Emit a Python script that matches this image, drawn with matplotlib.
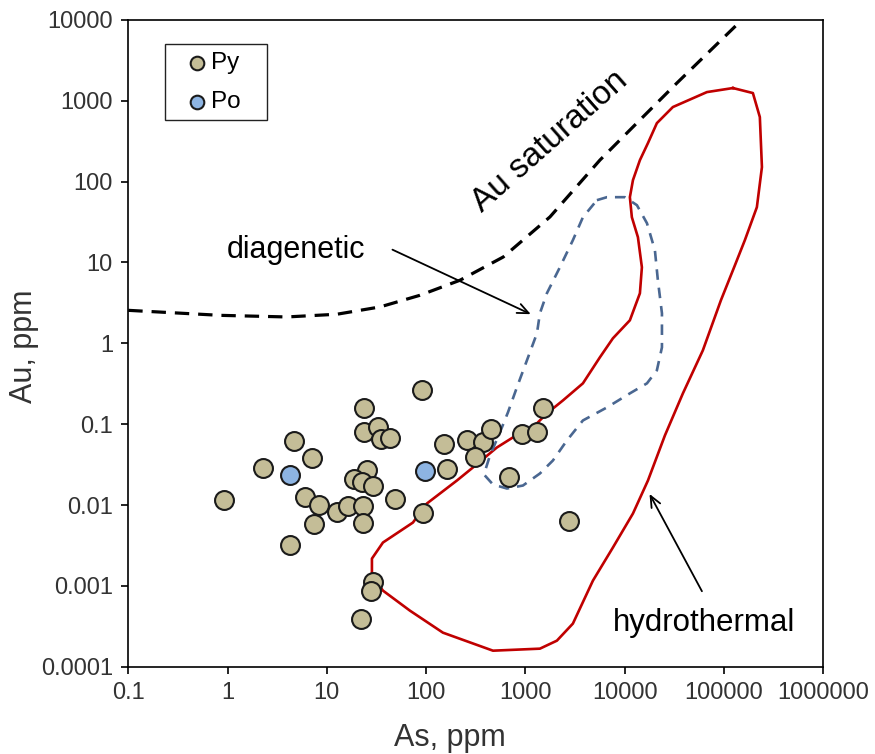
import matplotlib

matplotlib.use("Agg")
import matplotlib.pyplot as plt
import numpy as np
from matplotlib.patches import Rectangle

plt.rcParams["font.family"] = ["Liberation Sans", "DejaVu Sans"]

# Pyrite analyses (As, Au in ppm)
py_as = [0.92, 2.29, 4.63, 7.03, 6.06, 8.38, 7.47, 4.25, 12.8, 16.2, 23.3, 22.9,
         25.2, 18.7, 22.4, 28.9, 48.5, 23.8, 23.8, 32.5, 35.1, 43.2, 90.1, 93.5,
         29.3, 27.6, 22.0, 161, 151, 256, 376, 310, 446, 915, 1315, 1490, 687, 2742]
py_au = [0.0116, 0.0283, 0.0624, 0.0387, 0.0125, 0.0101, 0.00578, 0.00324, 0.00814,
         0.00986, 0.00977, 0.00595, 0.0273, 0.0209, 0.0191, 0.0171, 0.0120, 0.158,
         0.0797, 0.0919, 0.0647, 0.0672, 0.262, 0.00792, 0.00111, 0.000873, 0.00039,
         0.0281, 0.0573, 0.0629, 0.0600, 0.0391, 0.0879, 0.0746, 0.0797, 0.160,
         0.0225, 0.00630]

# Pyrrhotite analyses
po_as = [4.25, 97.9]
po_au = [0.0232, 0.026]

# Au saturation curve
sat_as = [0.1, 0.84, 3.94, 12.6, 34.3, 86.6, 219, 598, 1765, 5630, 14200, 33300,
          134000, 162000]
sat_au = [2.56, 2.22, 2.12, 2.29, 2.82, 3.93, 6.03, 11.7, 36.6, 185, 578, 1645,
          8670, 11500]

# hydrothermal field outline (log10 As, log10 Au)
hydro_log_as = [5.090, 5.291, 5.361, 5.382, 5.331, 5.210, 5.110, 4.969, 4.787, 4.586,
                4.405, 4.234, 4.083, 3.881, 3.680, 3.478, 3.317, 3.146, 2.673, 2.169,
                1.837, 1.565, 1.454, 1.454, 1.565, 1.867, 2.008, 2.310, 2.471, 2.713,
                2.874, 3.045, 3.216, 3.378, 3.579, 3.750, 3.881, 4.052, 4.153, 4.173,
                4.133, 4.072, 4.052, 4.083, 4.153, 4.234, 4.324, 4.485, 4.828, 5.090]
hydro_log_au = [3.158, 3.096, 2.799, 2.180, 1.684, 1.276, 0.966, 0.533, -0.087, -0.619,
                -1.139, -1.697, -2.105, -2.526, -2.935, -3.467, -3.678, -3.777, -3.802,
                -3.579, -3.307, -3.059, -2.873, -2.663, -2.464, -2.217, -1.981, -1.697,
                -1.536, -1.288, -1.164, -1.077, -0.867, -0.706, -0.495, -0.173, 0.062,
                0.285, 0.619, 0.941, 1.313, 1.560, 1.808, 2.019, 2.266, 2.477, 2.724,
                2.923, 3.108, 3.158]

# diagenetic field outline (log10 As, log10 Au)
diag_log_as = [3.720, 3.821, 4.002, 4.123, 4.224, 4.304, 4.334, 4.375, 4.375, 4.324,
               4.224, 4.052, 3.821, 3.579, 3.418, 3.277, 3.146, 2.975, 2.814, 2.673,
               2.582, 2.643, 2.743, 2.824, 2.914, 3.015, 3.116, 3.146, 3.216, 3.347,
               3.478, 3.579, 3.720]
diag_log_au = [1.771, 1.808, 1.808, 1.709, 1.486, 1.152, 0.780, 0.372, -0.050, -0.334,
               -0.495, -0.619, -0.793, -0.954, -1.201, -1.449, -1.610, -1.759, -1.796,
               -1.746, -1.622, -1.387, -1.102, -0.854, -0.545, -0.211, 0.124, 0.372,
               0.619, 0.941, 1.276, 1.560, 1.771]

x_ticks = [0.1, 1, 10, 100, 1000, 10000, 100000, 1000000]
x_labels = ["0.1", "1", "10", "100", "1000", "10000", "100000", "1000000"]
y_ticks = [0.0001, 0.001, 0.01, 0.1, 1, 10, 100, 1000, 10000]
y_labels = ["0.0001", "0.001", "0.01", "0.1", "1", "10", "100", "1000", "10000"]

fig = plt.figure(figsize=(8.75, 7.54), dpi=100)
ax = fig.add_axes([0.1466, 0.1158, 0.7943, 0.8577])
ax.set_xscale("log")
ax.set_yscale("log")
ax.set_xlim(0.1, 1e6)
ax.set_ylim(1e-4, 1e4)

ax.plot(sat_as, sat_au, color="black", lw=2.3, dashes=(4.5, 2.8), zorder=2)
ax.plot(10 ** np.array(hydro_log_as), 10 ** np.array(hydro_log_au),
        color="#C00000", lw=1.9, zorder=2)
ax.plot(10 ** np.array(diag_log_as), 10 ** np.array(diag_log_au),
        color="#4A6791", lw=1.9, dashes=(4.0, 3.0), zorder=2)

ax.scatter(py_as, py_au, s=185, c="#C4BD97", edgecolors="#1a1a1a",
           linewidths=1.5, zorder=4, label="Py")
ax.scatter(po_as, po_au, s=185, c="#8DB4E2", edgecolors="#1a1a1a",
           linewidths=1.5, zorder=4, label="Po")

ax.text(1766, 313, "Au saturation", fontsize=24, rotation=41.5,
        rotation_mode="anchor", ha="center", va="center")
ax.text(4.94, 14.2, "diagenetic", fontsize=22, ha="center", va="center")
ax.text(62800, 0.000345, "hydrothermal", fontsize=22.5, ha="center", va="center")

ax.annotate("", xy=(1200, 2.22), xytext=(43.2, 14.9),
            arrowprops=dict(arrowstyle="->,head_length=0.8,head_width=0.35",
                            color="black", lw=1.3))
ax.annotate("", xy=(17250, 0.0147), xytext=(61800, 0.0008),
            arrowprops=dict(arrowstyle="->,head_length=0.8,head_width=0.35",
                            color="black", lw=1.3))

ax.xaxis.set_major_locator(matplotlib.ticker.FixedLocator(x_ticks))
ax.yaxis.set_major_locator(matplotlib.ticker.FixedLocator(y_ticks))
ax.xaxis.set_minor_locator(matplotlib.ticker.NullLocator())
ax.yaxis.set_minor_locator(matplotlib.ticker.NullLocator())
ax.set_xticklabels(x_labels)
ax.set_yticklabels(y_labels)
ax.tick_params(direction="out", length=5, width=1.2, labelsize=17,
               labelcolor="#333333", pad=6)
for spine in ax.spines.values():
    spine.set_linewidth(1.2)

ax.set_xlabel("As, ppm", fontsize=22, color="#333333")
ax.xaxis.set_label_coords(0.463, -0.087)
ax.set_ylabel("Au, ppm", fontsize=22, color="#333333")
ax.yaxis.set_label_coords(-0.128, 0.495)

# legend box drawn separately so its padding matches the original
ax.add_patch(Rectangle((0.0528, 0.8454), 0.1468, 0.1175, transform=ax.transAxes,
                       facecolor="white", edgecolor="#222222", lw=1.0, zorder=5))
leg = ax.legend(loc="upper left", bbox_to_anchor=(0.062, 0.967), borderaxespad=0,
                frameon=False, fontsize=17.5, markerscale=0.72,
                handletextpad=0.0, handlelength=1.2, borderpad=0.45,
                labelspacing=0.7)
leg.set_zorder(6)

fig.savefig("out.png", dpi=100, facecolor="white")
